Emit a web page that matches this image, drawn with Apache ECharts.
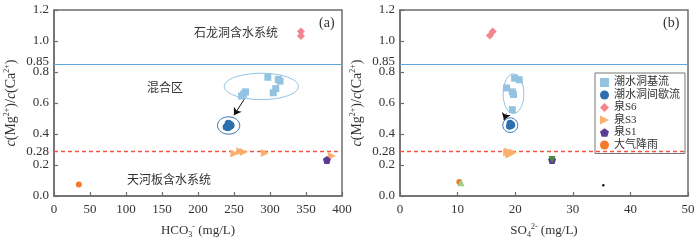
<!DOCTYPE html>
<html><head><meta charset="utf-8">
<script src="https://cdn.jsdelivr.net/npm/echarts@6/dist/echarts.min.js"></script>
<style>html,body{margin:0;padding:0;background:#fff}#c{width:699px;height:244px}</style>
</head><body><div id="c"></div>
<script>
// ---------- data ----------
const xTicksA = [0, 50, 100, 150, 200, 250, 300, 350, 400];
const xTicksB = [0, 10, 20, 30, 40, 50];
const yTicks = [0, 0.2, 0.4, 0.6, 0.8, 1.0, 1.2];
const refLines = [0.85, 0.28];
const refLabels = ['0.85', '0.28'];
const seriesNames = ['潮水洞基流', '潮水洞间歇流', '泉S6', '泉S3', '泉S1', '大气降雨'];

// panel (a): HCO3- vs Mg/Ca
const aBase = [[297, 0.766], [311.5, 0.752], [314, 0.741], [308, 0.693], [304.5, 0.666], [266, 0.672], [263.5, 0.658], [260.5, 0.645]];
const aInter = [[239, 0.445], [241, 0.455], [243, 0.468], [245, 0.462], [244, 0.448], [241.5, 0.44], [246, 0.455], [242, 0.47]];
const aS6 = [[343, 1.062], [343, 1.032]];
const aS3 = [[250.5, 0.274], [259, 0.288], [263.5, 0.284], [293, 0.278], [386, 0.258]];
const aS1 = [[379, 0.232]];
const aRain = [[34.5, 0.075]];
const aEllipses = [[288, 0.707, 51.5, 0.085], [242.5, 0.455, 15.5, 0.056]];
const aArrow = [[265, 0.63], [250, 0.521]];

// panel (b): SO4 2- vs Mg/Ca
const bBase = [[19.9, 0.76], [20.7, 0.75], [18.5, 0.697], [19.5, 0.672], [19.7, 0.655], [19.5, 0.557]];
const bInter = [[19.0, 0.45], [19.2, 0.465], [19.3, 0.455], [19.1, 0.47], [19.4, 0.46]];
const bS6 = [[15.6, 1.035], [16.1, 1.062]];
const bS3 = [[18.6, 0.28], [19.2, 0.275], [19.6, 0.28], [19.0, 0.268], [18.8, 0.287]];
const bS1 = [[26.4, 0.232]];
const bRain = [[10.3, 0.09]];
const bGreenDown = [[26.4, 0.236]];
const bGreenUp = [[10.6, 0.085]];
const bBlackDot = [[35.3, 0.069]];
const bEllipses = [[19.7, 0.66, 1.8, 0.128], [19.15, 0.457, 1.3, 0.047]];
const bArrow = [[18.45, 0.532], [18.05, 0.49]];

// ---------- styles ----------
const FONT = '"Liberation Serif", "Times New Roman", "DejaVu Serif", serif';
const CJK = '"Liberation Serif", "Noto Sans CJK SC", serif';
const AX = '#6e6e6e';
const TXT = '#333';
const C = {base: '#93c3e0', inter: '#2c6fae', s6: '#f3858f', s3: '#fcaf6c', s1: '#5b3b94', rain: '#f37a2c'};
const pentagon = 'path://M0,-10 L9.51,-3.09 L5.88,8.09 L-5.88,8.09 L-9.51,-3.09 Z';
const triRight = 'path://M0,0 L10,5 L0,10 Z';

const chart = echarts.init(document.getElementById('c'), null, {renderer: 'canvas'});

function xAxis(idx, max, interval, nameRich) {
  return {
    gridIndex: idx, type: 'value', min: 0, max: max, interval: interval,
    axisLine: {show: true, onZero: false, lineStyle: {color: AX, width: 1.5}},
    axisTick: {show: true, inside: true, length: 4, lineStyle: {color: AX, width: 1.2}},
    axisLabel: {fontFamily: FONT, fontSize: 13, color: TXT, margin: 7},
    splitLine: {show: false},
    name: nameRich, nameLocation: 'middle', nameGap: 27,
    nameTextStyle: {fontFamily: FONT, fontSize: 13, color: TXT,
      rich: {
        n: {fontFamily: FONT, fontSize: 13, color: TXT, lineHeight: 16, verticalAlign: 'middle'},
        sub: {fontFamily: FONT, fontSize: 8, color: TXT, lineHeight: 8, verticalAlign: 'bottom'},
        sup: {fontFamily: FONT, fontSize: 8, color: TXT, lineHeight: 8, verticalAlign: 'top'}
      }}
  };
}
const yName = '{i|c}{n|(Mg}{sup|2+}{n|)/}{i|c}{n|(Ca}{sup|2+}{n|)}';
function yAxis(idx) {
  return {
    gridIndex: idx, type: 'value', min: 0, max: 1.2, interval: 0.2,
    axisLine: {show: true, onZero: false, lineStyle: {color: AX, width: 1.5}},
    axisTick: {show: true, inside: true, length: 4, lineStyle: {color: AX, width: 1.2}},
    axisLabel: {fontFamily: FONT, fontSize: 13, color: TXT, margin: 5,
      formatter: v => yTicks.includes(+v.toFixed(1)) ? v.toFixed(1) : ''},
    splitLine: {show: false},
    name: yName, nameLocation: 'middle', nameGap: 35,
    nameTextStyle: {fontFamily: FONT, fontSize: 14, color: TXT,
      rich: {
        n: {fontFamily: FONT, fontSize: 14, color: TXT, lineHeight: 16, verticalAlign: 'middle'},
        i: {fontFamily: FONT, fontSize: 14, fontStyle: 'italic', color: TXT, lineHeight: 16, verticalAlign: 'middle'},
        sup: {fontFamily: FONT, fontSize: 8, color: TXT, lineHeight: 8, verticalAlign: 'top'}
      }}
  };
}

function scatter(name, data, idx, symbol, color, size) {
  return {
    type: 'scatter', name: name, xAxisIndex: idx, yAxisIndex: idx, data: data,
    symbol: symbol, symbolSize: size,
    itemStyle: {color: color, opacity: 1}, z: 5
  };
}
function ellipses(data, idx, colors) {
  return {
    type: 'custom', name: 'ell' + idx, xAxisIndex: idx, yAxisIndex: idx, data: data, silent: true, z: 3,
    renderItem: function (params, api) {
      const c = api.coord([api.value(0), api.value(1)]);
      const s = api.size([api.value(2), api.value(3)]);
      return {type: 'ellipse', shape: {cx: c[0], cy: c[1], rx: s[0], ry: s[1]},
        style: {fill: 'none', stroke: colors[params.dataIndex], lineWidth: 1}};
    }
  };
}
function guides(idx, arrow) {
  return {
    type: 'scatter', name: 'guide' + idx, xAxisIndex: idx, yAxisIndex: idx, data: [], silent: true,
    markLine: {
      silent: true, animation: false, symbol: 'none',
      data: [
        {yAxis: refLines[0], lineStyle: {color: '#5ba8dd', type: 'solid', width: 1.2},
         label: {show: true, position: 'start', distance: 5, formatter: refLabels[0], offset: [0, -3],
           fontFamily: FONT, fontSize: 13, color: TXT}},
        {yAxis: refLines[1] + 0.008, lineStyle: {color: '#f25444', type: [4, 3], width: 1.3, opacity: 1},
         label: {show: true, position: 'start', distance: 5, formatter: refLabels[1], offset: [0, 1],
           fontFamily: FONT, fontSize: 13, color: TXT}},
        [{coord: arrow[0], symbol: 'none', lineStyle: {color: '#111', type: 'solid', width: 1}, label: {show: false}},
         {coord: arrow[1], symbol: 'arrow', symbolSize: 7}]
      ]
    }
  };
}

const option = {
  animation: false,
  backgroundColor: '#fff',
  grid: [
    {left: 54, right: 357, top: 10, bottom: 42, show: true, borderColor: AX, borderWidth: 1.5, backgroundColor: 'transparent'},
    {left: 400, right: 11, top: 10, bottom: 42, show: true, borderColor: AX, borderWidth: 1.5, backgroundColor: 'transparent'}
  ],
  xAxis: [
    xAxis(0, 400, 50, '{n|HCO}{sub|3}{sup|-}{n| (mg/L)}'),
    xAxis(1, 50, 10, '{n|SO}{sub|4}{sup|2-}{n| (mg/L)}')
  ],
  yAxis: [yAxis(0), yAxis(1)],
  legend: {
    data: seriesNames, orient: 'vertical', left: 595, top: 73,
    backgroundColor: '#fff', borderColor: '#777', borderWidth: 1, borderRadius: 0,
    padding: [4, 5, 3, 5], itemGap: 1.5, itemWidth: 9, itemHeight: 9,
    textStyle: {fontFamily: CJK, fontSize: 11, color: TXT, lineHeight: 10}
  },
  graphic: [
    {type: 'text', left: 194, top: 28, style: {text: '石龙洞含水系统', font: '12px ' + CJK, fill: TXT}},
    {type: 'text', left: 147, top: 83, style: {text: '混合区', font: '12px ' + CJK, fill: TXT}},
    {type: 'text', left: 127, top: 175, style: {text: '天河板含水系统', font: '12px ' + CJK, fill: TXT}},
    {type: 'text', left: 319, top: 16, style: {text: '(a)', font: '14px ' + FONT, fill: TXT}},
    {type: 'text', left: 663, top: 16, style: {text: '(b)', font: '14px ' + FONT, fill: TXT}}
  ],
  series: [
    scatter(seriesNames[0], aBase, 0, 'rect', C.base, 7),
    scatter(seriesNames[1], aInter, 0, 'circle', C.inter, 7),
    scatter(seriesNames[2], aS6, 0, 'diamond', C.s6, 8),
    scatter(seriesNames[3], aS3, 0, triRight, C.s3, 8),
    scatter(seriesNames[4], aS1, 0, pentagon, C.s1, 8),
    scatter(seriesNames[5], aRain, 0, 'circle', C.rain, 6),
    ellipses(aEllipses, 0, ['#8ec3e3', '#2f74b5']),
    guides(0, aArrow),

    scatter(seriesNames[0], bBase, 1, 'rect', C.base, 7),
    scatter(seriesNames[1], bInter, 1, 'circle', C.inter, 7),
    scatter(seriesNames[2], bS6, 1, 'diamond', C.s6, 8),
    scatter(seriesNames[3], bS3, 1, triRight, C.s3, 8),
    scatter(seriesNames[4], bS1, 1, pentagon, C.s1, 8),
    scatter(seriesNames[5], bRain, 1, 'circle', C.rain, 6),
    scatter('green-down', bGreenDown, 1, 'path://M0,0 L10,0 L5,9 Z', '#3f8f3f', 7),
    scatter('green-up', bGreenUp, 1, 'triangle', '#9fd08a', 7),
    scatter('dot', bBlackDot, 1, 'circle', '#111', 2.5),
    ellipses(bEllipses, 1, ['#8ec3e3', '#2f74b5']),
    guides(1, bArrow)
  ]
};
chart.setOption(option);
</script></body></html>
